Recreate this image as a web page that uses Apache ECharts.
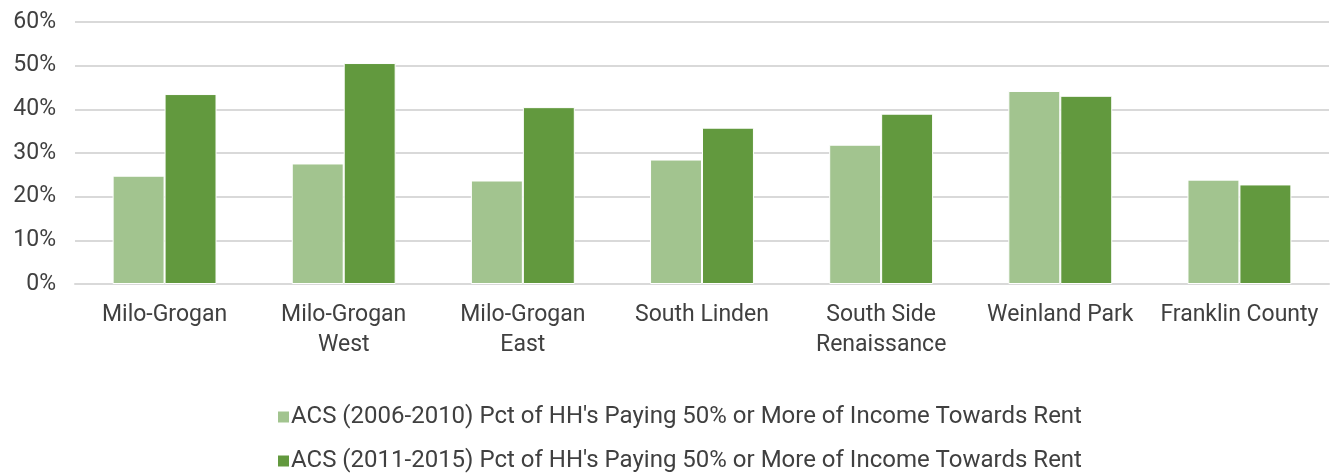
<!DOCTYPE html>
<html>
<head>
<meta charset="utf-8">
<script src="https://cdn.jsdelivr.net/npm/echarts@6/dist/echarts.min.js"></script>
<style>
  html, body { margin: 0; padding: 0; background: #fff; }
  #chart { width: 1338px; height: 475px; }
</style>
</head>
<body>
<div id="chart"></div>
<script>
const categories = [
  'Milo-Grogan', 'Milo-Grogan\nWest', 'Milo-Grogan\nEast', 'South Linden',
  'South Side\nRenaissance', 'Weinland Park', 'Franklin County'
]
const seriesNames = [
  "ACS (2006-2010) Pct of HH's Paying 50% or More of Income Towards Rent",
  "ACS (2011-2015) Pct of HH's Paying 50% or More of Income Towards Rent"
]
const acs2010 = [0.248, 0.276, 0.237, 0.285, 0.319, 0.442, 0.239]
const acs2015 = [0.435, 0.506, 0.405, 0.358, 0.390, 0.431, 0.228]
const yTicks = [0, 0.1, 0.2, 0.3, 0.4, 0.5, 0.6]

const COLORS = ['#a2c48f', '#62993e']
const FONT = 'Roboto'

const chart = echarts.init(document.getElementById('chart'))
chart.setOption({
  animation: false,
  textStyle: { fontFamily: FONT },
  grid: { left: 75, right: 9, top: 22, bottom: 191, containLabel: false },
  legend: {
    orient: 'vertical',
    left: 276, top: 405,
    padding: 0,
    itemGap: 20,
    itemWidth: 13, itemHeight: 13,
    icon: 'rect',
    textStyle: { fontSize: 24, color: '#404040', fontFamily: FONT, padding: [0, 0, 0, -4] },
    data: seriesNames
  },
  xAxis: {
    type: 'category',
    data: categories,
    axisLine: { lineStyle: { color: '#d9d9d9', width: 2 } },
    axisTick: { show: false },
    axisLabel: { color: '#404040', fontSize: 23, lineHeight: 30, margin: 16, interval: 0 }
  },
  yAxis: {
    type: 'value',
    min: yTicks[0], max: yTicks[yTicks.length - 1], interval: 0.1,
    axisLine: { show: false },
    axisTick: { show: false },
    splitLine: { lineStyle: { color: '#d9d9d9', width: 2 } },
    axisLabel: {
      color: '#404040', fontSize: 23, margin: 19,
      formatter: v => Math.round(v * 100) + '%'
    }
  },
  series: [
    {
      name: seriesNames[0], type: 'bar', data: acs2010,
      barGap: '0%', barCategoryGap: '42%',
      itemStyle: { color: COLORS[0], borderColor: '#ffffff', borderWidth: 1 }
    },
    {
      name: seriesNames[1], type: 'bar', data: acs2015,
      barGap: '0%', barCategoryGap: '42%',
      itemStyle: { color: COLORS[1], borderColor: '#ffffff', borderWidth: 1 }
    }
  ]
})
</script>
</body>
</html>
